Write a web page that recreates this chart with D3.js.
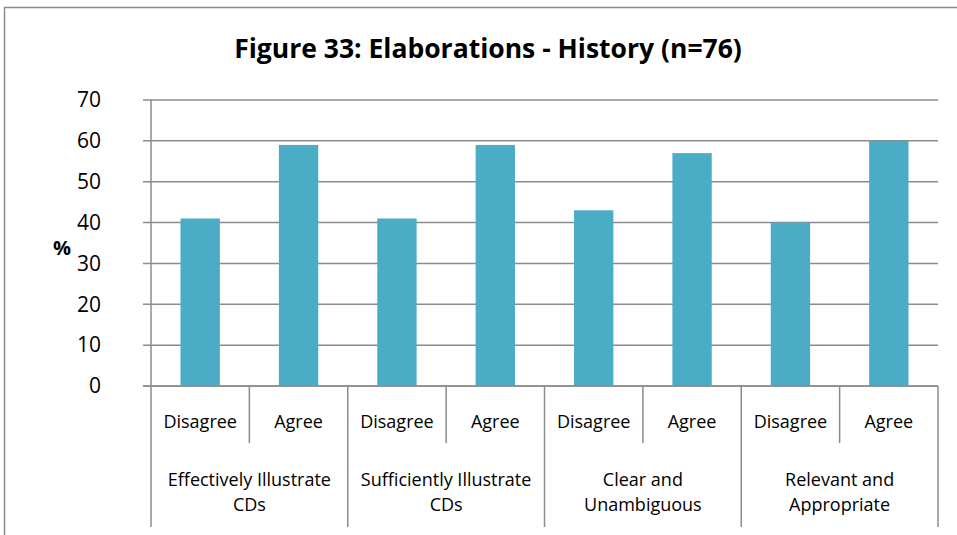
<!DOCTYPE html>
<html>
<head>
<meta charset="utf-8">
<script src="https://cdn.jsdelivr.net/npm/d3@7"></script>
<style>
  body { margin: 0; background: #fff; }
  text { font-family: "Open Sans", sans-serif; fill: #000; }
</style>
</head>
<body>
<div id="chart"></div>
<script>
// Figure 33: Elaborations - History
const groups = ['Effectively Illustrate CDs', 'Sufficiently Illustrate CDs', 'Clear and Unambiguous', 'Relevant and Appropriate'];
const groupLines = [['Effectively Illustrate', 'CDs'], ['Sufficiently Illustrate', 'CDs'], ['Clear and', 'Unambiguous'], ['Relevant and', 'Appropriate']];
const responses = ['Disagree', 'Agree'];
const values = [41, 59, 41, 59, 43, 57, 40, 60];
const yTicks = [0, 10, 20, 30, 40, 50, 60, 70];

(function() {
    const width = 957, height = 535;
    const plot = {left: 151, right: 938, top: 100, bottom: 386};

    const svg = d3.select('#chart').append('svg')
        .attr('width', width)
        .attr('height', height);

    // outer chart frame
    svg.append('rect')
        .attr('x', 4.5).attr('y', 7.5)
        .attr('width', 1000).attr('height', 600)
        .attr('fill', 'none')
        .attr('stroke', '#8c8c8c')
        .attr('stroke-width', 1.5);

    // flat list of bars
    const data = [];
    groups.forEach((g, gi) => responses.forEach((r, ri) => {
        data.push({key: gi + '-' + r, group: g, resp: r, value: values[gi * 2 + ri]});
    }));

    const x = d3.scaleBand()
        .domain(data.map(d => d.key))
        .range([plot.left, plot.right])
        .paddingInner(0.6)
        .paddingOuter(0.3);

    const xOuter = d3.scaleBand()
        .domain(data.map(d => d.key))
        .range([plot.left, plot.right]);

    const y = d3.scaleLinear()
        .domain([0, 70])
        .range([plot.bottom, plot.top]);

    // gridlines
    svg.append('g')
        .selectAll('line')
        .data(yTicks)
        .enter()
        .append('line')
        .attr('x1', plot.left - 8)
        .attr('x2', plot.right)
        .attr('y1', d => y(d))
        .attr('y2', d => y(d))
        .attr('stroke', '#8c8c8c')
        .attr('stroke-width', 1.5);

    // y labels
    svg.append('g')
        .selectAll('text')
        .data(yTicks)
        .enter()
        .append('text')
        .attr('x', plot.left - 50)
        .attr('y', d => y(d))
        .attr('dy', '0.35em')
        .attr('text-anchor', 'end')
        .attr('font-size', '21px')
        .text(d => d);

    svg.append('text')
        .attr('x', 62)
        .attr('y', 248)
        .attr('dy', '0.35em')
        .attr('text-anchor', 'middle')
        .attr('font-size', '20px')
        .attr('font-weight', 'bold')
        .text('%');

    // bars
    svg.append('g')
        .selectAll('rect')
        .data(data)
        .enter()
        .append('rect')
        .attr('x', d => x(d.key))
        .attr('y', d => y(d.value))
        .attr('width', x.bandwidth())
        .attr('height', d => y(0) - y(d.value))
        .attr('fill', '#4bacc6');

    // y axis line
    svg.append('line')
        .attr('x1', plot.left).attr('x2', plot.left)
        .attr('y1', plot.top).attr('y2', plot.bottom)
        .attr('stroke', '#8c8c8c')
        .attr('stroke-width', 1.5);

    // category dividers: short between responses, long between groups
    const edges = d3.range(data.length + 1);
    const bw = xOuter.step();
    svg.append('g')
        .selectAll('line')
        .data(edges)
        .enter()
        .append('line')
        .attr('x1', i => plot.left + i * bw)
        .attr('x2', i => plot.left + i * bw)
        .attr('y1', plot.bottom)
        .attr('y2', i => i % 2 === 0 ? 527 : 443)
        .attr('stroke', '#8c8c8c')
        .attr('stroke-width', 1.5);

    // response labels
    svg.append('g')
        .selectAll('text')
        .data(data)
        .enter()
        .append('text')
        .attr('x', d => xOuter(d.key) + bw / 2)
        .attr('y', 422)
        .attr('dy', '0.35em')
        .attr('text-anchor', 'middle')
        .attr('font-size', '18px')
        .text(d => d.resp);

    // group labels
    const gl = svg.append('g')
        .selectAll('text')
        .data(groups)
        .enter()
        .append('text')
        .attr('x', (g, i) => plot.left + (i * 2 + 1) * bw)
        .attr('y', 480)
        .attr('text-anchor', 'middle')
        .attr('font-size', '18px');
    gl.selectAll('tspan')
        .data((g, i) => groupLines[i])
        .enter()
        .append('tspan')
        .attr('x', function() { return d3.select(this.parentNode).attr('x'); })
        .attr('dy', (d, i) => i === 0 ? '0.35em' : '25px')
        .text(d => d);

    // x axis line
    svg.append('line')
        .attr('x1', plot.left - 8).attr('x2', plot.right)
        .attr('y1', plot.bottom).attr('y2', plot.bottom)
        .attr('stroke', '#8c8c8c')
        .attr('stroke-width', 1.5);

    // title
    svg.append('text')
        .attr('x', 488)
        .attr('y', 49)
        .attr('dy', '0.35em')
        .attr('text-anchor', 'middle')
        .attr('font-size', '26.5px')
        .attr('font-weight', 'bold')
        .text('Figure 33: Elaborations - History (n=76)');
})();
</script>
</body>
</html>
